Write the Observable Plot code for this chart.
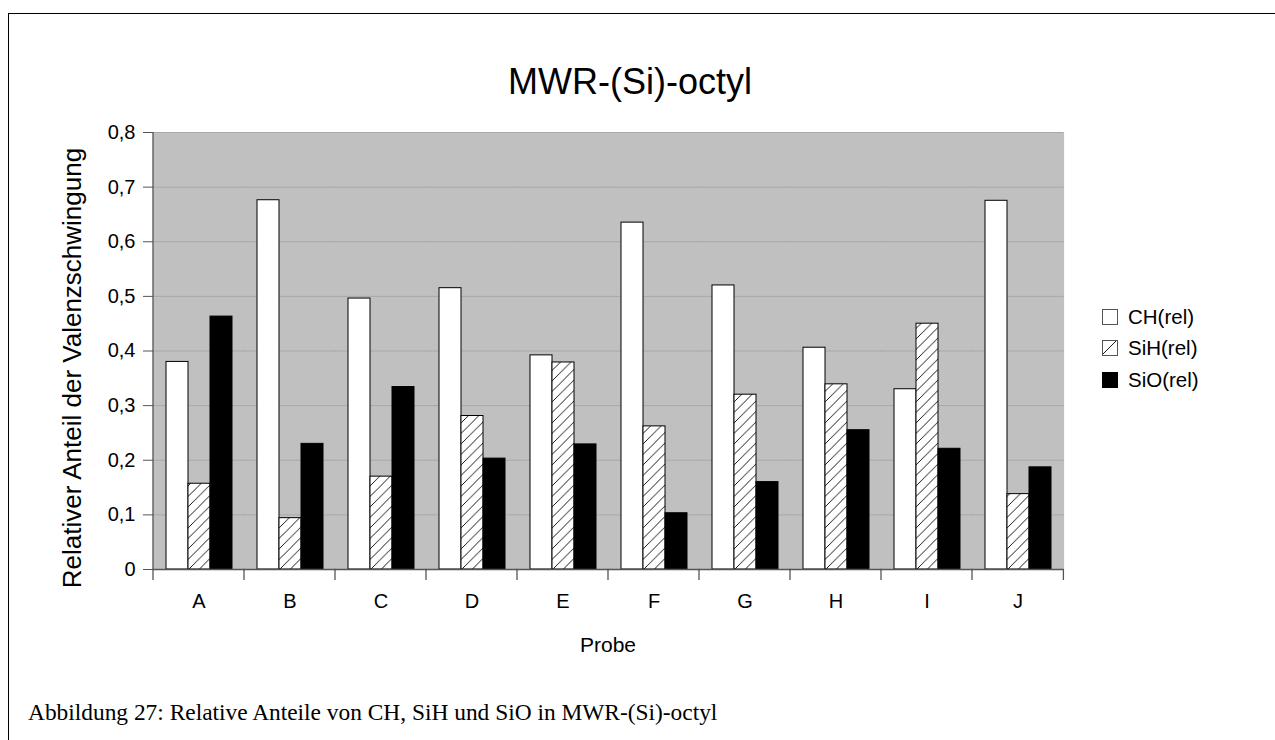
<!DOCTYPE html>
<html>
<head>
<meta charset="utf-8">
<script src="https://cdn.jsdelivr.net/npm/d3@7"></script>
<script src="https://cdn.jsdelivr.net/npm/@observablehq/plot@0.6"></script>
<style>
  html, body { margin: 0; padding: 0; background: #fff; }
  #page { position: relative; width: 1275px; height: 740px; overflow: hidden; font-family: "Liberation Sans", Arial, sans-serif; color: #000; }
  #border { position: absolute; left: 8px; top: 13px; width: 1400px; height: 900px; border-left: 1px solid #000; border-top: 1px solid #000; }
  #chart { position: absolute; left: 0; top: 0; }
  #title { position: absolute; left: 430px; width: 400px; top: 62px; text-align: center; font-size: 36px; line-height: 40px; white-space: nowrap; }
  #ylabel { position: absolute; left: 72px; top: 368px; transform: translate(-50%, -50%) rotate(-90deg); white-space: nowrap; font-size: 26px; line-height: 28px; }
  #xlabel { position: absolute; left: 151px; width: 914px; top: 632px; text-align: center; font-size: 21px; line-height: 26px; }
  #legend { position: absolute; left: 1102px; top: 301px; font-size: 20.5px; }
  .lg { display: flex; align-items: center; height: 31.5px; }
  .lg svg { margin-right: 10px; }
  #caption { position: absolute; left: 28px; top: 698px; font-family: "Liberation Serif", "Times New Roman", serif; font-size: 23.4px; line-height: 28px; white-space: nowrap; }
</style>
</head>
<body>
<div id="page">
  <div id="border"></div>
  <div id="chart"></div>
  <div id="title">MWR-(Si)-octyl</div>
  <div id="ylabel">Relativer Anteil der Valenzschwingung</div>
  <div id="xlabel">Probe</div>
  <div id="legend"></div>
  <div id="caption">Abbildung 27: Relative Anteile von CH, SiH und SiO in MWR-(Si)-octyl</div>
</div>
<script>
// ---- data ----
const categories = ["A", "B", "C", "D", "E", "F", "G", "H", "I", "J"];
const seriesNames = ["CH(rel)", "SiH(rel)", "SiO(rel)"];
const chValues  = [0.380, 0.676, 0.496, 0.515, 0.392, 0.635, 0.520, 0.406, 0.330, 0.675];
const sihValues = [0.157, 0.094, 0.170, 0.281, 0.379, 0.262, 0.320, 0.339, 0.450, 0.138];
const sioValues = [0.463, 0.230, 0.334, 0.203, 0.229, 0.103, 0.160, 0.255, 0.221, 0.187];
const yTicks = [0, 0.1, 0.2, 0.3, 0.4, 0.5, 0.6, 0.7, 0.8];
const yTickLabels = ["0", "0,1", "0,2", "0,3", "0,4", "0,5", "0,6", "0,7", "0,8"];
const seriesFills = ["white", "url(#hatch)", "black"];

const valuesBySeries = [chValues, sihValues, sioValues];
const data = categories.flatMap((c, i) =>
  seriesNames.map((s, j) => ({ probe: c, serie: s, value: valuesBySeries[j][i] })));

const plot = Plot.plot({
  width: 1275,
  height: 700,
  marginLeft: 151,
  marginRight: 210,
  marginTop: 132,
  marginBottom: 131,
  style: { fontFamily: "Liberation Sans, Arial, sans-serif", fontSize: "20px", background: "transparent", color: "#000" },
  fx: { domain: categories, padding: 0 },
  x: { domain: seriesNames, paddingInner: 0, paddingOuter: 0.487, axis: null },
  y: { domain: [0, 0.8] },
  color: { type: "ordinal", domain: seriesNames, range: seriesFills },
  marks: [
    Plot.frame({ fill: "#c0c0c0", stroke: null, insetLeft: -0.6, insetRight: -0.6 }),
    Plot.gridY(yTicks, { stroke: "#a8a8a8", strokeOpacity: 1, strokeWidth: 1, insetLeft: -0.6, insetRight: -0.6 }),
    Plot.barY(data, { fx: "probe", x: "serie", y: "value", fill: "serie", stroke: "#000", strokeWidth: 1 }),
    Plot.ruleY([0], { stroke: "#555", strokeWidth: 1.3, insetLeft: -0.6, insetRight: -0.6 }),
    Plot.axisY({
      ticks: yTicks,
      tickFormat: (d) => yTickLabels[yTicks.indexOf(d)] ?? "",
      tickSize: 10, tickPadding: 8, stroke: "#555", fill: "#000",
      fontSize: 20, label: null
    }),
    Plot.axisFx({ anchor: "bottom", tickSize: 0, tickPadding: 24, fontSize: 20, fill: "#000", label: null })
  ]
});

document.getElementById("chart").appendChild(plot);

// hatch pattern definition
const svg = d3.select(plot);
const defs = svg.insert("defs", ":first-child");
const pat = defs.append("pattern").attr("id", "hatch")
  .attr("patternUnits", "userSpaceOnUse").attr("width", 10.5).attr("height", 10.5);
pat.append("rect").attr("width", 10.5).attr("height", 10.5).attr("fill", "white");
pat.append("path").attr("d", "M-2.625,2.625 L2.625,-2.625 M0,10.5 L10.5,0 M7.875,13.125 L13.125,7.875")
  .attr("stroke", "#000").attr("stroke-width", 0.9);

// left axis line and category boundary ticks, placed with the plot's own scales
const fx = plot.scale("fx");
const ys = plot.scale("y");
const y0 = ys.apply(0), y1 = ys.apply(0.8);
const [r0, r1] = fx.range;
const step = (r1 - r0) / categories.length;
const edge = (c) => (typeof fx.apply === "function" ? fx.apply(c) : r0 + categories.indexOf(c) * step);
const edges = categories.map(edge).concat([edge(categories[categories.length - 1]) + step]);
const g = svg.append("g").attr("stroke", "#555").attr("stroke-width", 1.3);
g.append("line").attr("x1", edges[0]).attr("x2", edges[0]).attr("y1", y0 + 0.5).attr("y2", y1);
edges.forEach((x) => {
  g.append("line").attr("x1", x).attr("x2", x).attr("y1", y0).attr("y2", y0 + 11);
});

// legend
const legend = d3.select("#legend");
seriesNames.forEach((s, j) => {
  const row = legend.append("div").attr("class", "lg");
  const sw = row.append("svg").attr("width", 16).attr("height", 16);
  if (j === 1) {
    const p2 = sw.append("defs").append("pattern").attr("id", "hatchLegend")
      .attr("patternUnits", "userSpaceOnUse").attr("width", 15).attr("height", 15);
    p2.append("rect").attr("width", 15).attr("height", 15).attr("fill", "white");
    p2.append("path").attr("d", "M0,15 L15,0 M-7.5,7.5 L7.5,-7.5 M7.5,22.5 L22.5,7.5").attr("stroke", "#000").attr("stroke-width", 0.9);
  }
  sw.append("rect").attr("x", 0.5).attr("y", 0.5).attr("width", 15).attr("height", 15)
    .attr("fill", j === 1 ? "url(#hatchLegend)" : seriesFills[j]).attr("stroke", j === 2 ? "#000" : "#555");
  row.append("span").text(s);
});
</script>
</body>
</html>
